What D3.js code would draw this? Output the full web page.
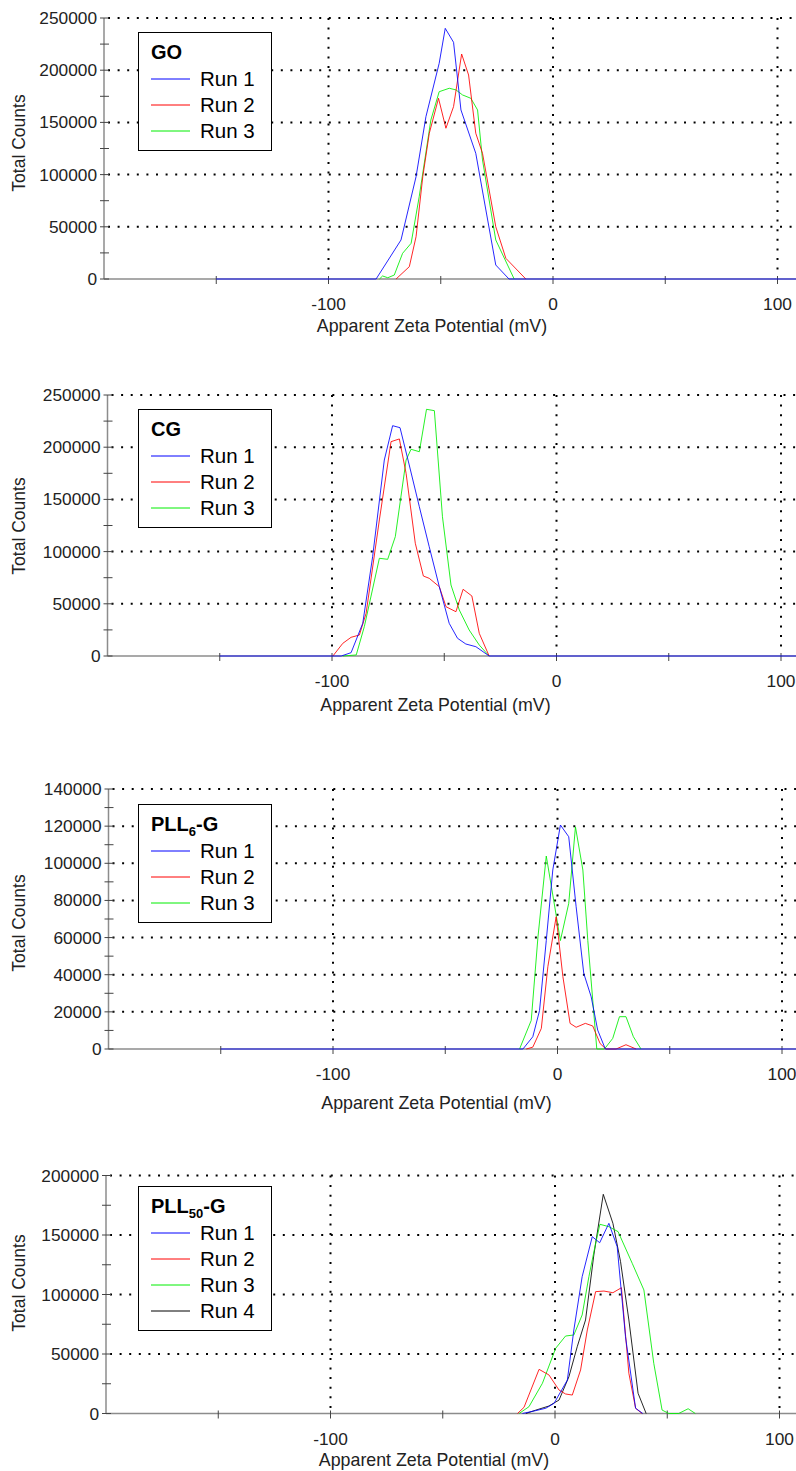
<!DOCTYPE html>
<html>
<head>
<meta charset="utf-8">
<script src="https://cdn.jsdelivr.net/npm/d3@7"></script>
<style>
  body { margin: 0; background: #fff; }
  svg { display: block; font-family: "Liberation Sans", Arial, sans-serif; }
</style>
</head>
<body>
<svg id="canvas" width="796" height="1471"></svg>
<script>
// ---- data: [zeta potential (mV), total counts] ----
const goRun1 = [[-150,0],[-78.8,0],[-67.7,37400],[-61,98000],[-56.6,155500],[-50.7,206600],[-48,240100],[-44.3,226700],[-41,161900],[-34.4,120400],[-29.9,66100],[-25.5,13400],[-19.6,0],[110,0]];
const goRun2 = [[-69.9,0],[-64,11800],[-61,40500],[-58,98000],[-55.1,139600],[-51,173100],[-47.7,144400],[-44.3,165100],[-40.7,215500],[-37.6,195400],[-34.4,139600],[-31.4,120400],[-25.5,50100],[-21,19800],[-12.1,0]];
const goRun3 = [[-77.3,0],[-75.9,2900],[-73.6,1200],[-70.7,3800],[-67,24600],[-63.2,34200],[-59.6,78800],[-54.4,152300],[-50.7,179400],[-46.2,182700],[-43.2,181100],[-40.3,176300],[-36.6,173100],[-33.6,161900],[-31.4,114000],[-25.5,37400],[-17.3,0]];

const cgRun1 = [[-150,0],[-95.9,0],[-91.5,3200],[-86.3,31300],[-81.9,95100],[-76.7,187700],[-73,220600],[-69.7,218700],[-65.6,183000],[-61.1,143000],[-56.7,104700],[-52.2,66400],[-47.8,31300],[-44.1,17000],[-40.4,11500],[-35.9,8900],[-30,0],[110,0]];
const cgRun2 = [[-99.6,0],[-95.2,12100],[-91.5,17900],[-87.8,20100],[-84.8,40900],[-78.9,130300],[-73.7,205300],[-70,207900],[-67,175000],[-62.9,108000],[-59.3,76600],[-56.7,74400],[-52.2,66400],[-49.2,47200],[-44.8,42400],[-41.6,63900],[-37.7,57500],[-34.4,21700],[-30,0]];
const cgRun3 = [[-95.2,0],[-89.2,1000],[-85.6,28100],[-78.9,93600],[-75.2,92600],[-71.8,114300],[-67,187700],[-64.8,198000],[-61.1,195700],[-57.9,236300],[-54.4,235000],[-50.8,133400],[-47,68000],[-43.3,44100],[-38.9,24900],[-34.4,10500],[-30,0]];

const pll6Run1 = [[-150,0],[-15.4,0],[-11,6600],[-8,20700],[-5,58400],[-2.1,96400],[1.3,120600],[5,114300],[8.3,76600],[11.7,40700],[15,28100],[17.9,10200],[21.3,0],[110,0]];
const pll6Run2 = [[-13.9,0],[-11,1000],[-7.2,11100],[-4.3,44300],[-0.6,71200],[2.4,39000],[5.6,13800],[8.3,11700],[12.4,13800],[15.7,12400],[19,2900],[21.6,0],[26.1,0],[30.5,2300],[35,0]];
const pll6Run3 = [[-16.9,0],[-11.7,15400],[-8.7,60400],[-5,103900],[1.3,58400],[5,78400],[8,119600],[11.3,96400],[13.5,58400],[17.5,0],[20.9,0],[24.6,5700],[27.6,17400],[30.5,17400],[33.8,6600],[37.2,0]];

const pll50Run1 = [[-14.5,0],[-8.6,2400],[-4.1,4400],[-0.4,8600],[5.5,28100],[8.4,70200],[12.1,115000],[16.6,148600],[19.9,143500],[24,159800],[27.7,140200],[31.4,64500],[35.9,4400],[39.1,0]];
const pll50Run2 = [[-16.7,0],[-13.8,5200],[-7.1,37100],[-2.7,32400],[1.8,19700],[4.7,16400],[7.7,15500],[11.4,36600],[14.4,70200],[18.1,102400],[21.8,102900],[25.8,101500],[29.6,105700],[32.9,33800],[35.9,4400],[38.8,0]];
const pll50Run3 = [[-16,0],[-11.6,5700],[-5.6,25400],[0.3,54800],[4.7,65100],[8.4,66000],[12.1,82800],[15.1,115000],[18.1,143000],[20,159000],[24,157000],[28.1,152800],[34.4,126200],[39.6,103800],[44,42200],[47.7,2900],[50.7,0],[55.1,0],[59.3,4000],[62.5,0]];
const pll50Run4 = [[-13,0],[-8.6,2800],[-2.7,6300],[1.8,11300],[6.2,30900],[9.9,56100],[13.6,78600],[17.3,133200],[21.5,184200],[25.8,159800],[29.2,127600],[32.9,78600],[37,17000],[40.6,0]];

const runNames = ["Run 1", "Run 2", "Run 3", "Run 4"];
const runColors = ["#0000ff", "#ff0000", "#00ee00", "#000000"];

const xTicks = [-150, -100, -50, 0, 50, 100];
const xLabels = [-100, 0, 100];
const xGrid = [-100, 0, 100];

const titles = [["GO", ""], ["CG", ""], ["PLL", "6", "-G"], ["PLL", "50", "-G"]];
const yMaxes = [250000, 250000, 140000, 200000];
const ySteps = [50000, 50000, 20000, 50000];
const seriesByPanel = [
  [goRun1, goRun2, goRun3],
  [cgRun1, cgRun2, cgRun3],
  [pll6Run1, pll6Run2, pll6Run3],
  [pll50Run1, pll50Run2, pll50Run3, pll50Run4],
];

// ---- layout of the four stacked panels ----
const layout = [
  { left: 104, top: 18, bottom: 279, yLabelY: 143, xTitleY: 332 },
  { left: 107.5, top: 395, bottom: 656, yLabelY: 526, xTitleY: 711 },
  { left: 108.5, top: 789, bottom: 1049, yLabelY: 923, xTitleY: 1109 },
  { left: 106, top: 1175.5, bottom: 1413.5, yLabelY: 1283, xTitleY: 1466 },
];
const legendTop = [32, 409, 804, 1186];

const canvas = d3.select("#canvas");
const W = 796;

const drawPanel = (i) => {
  const L = layout[i];
  const g = canvas.append("g");

  const x = d3.scaleLinear().domain([-200, 110]).range([L.left, L.left + 310 * 2.245]);
  const y = d3.scaleLinear().domain([0, yMaxes[i]]).range([L.bottom, L.top]);

  const majors = d3.range(0, yMaxes[i] + 1, ySteps[i]);
  const minors = d3.range(0, yMaxes[i] + 1, ySteps[i] / 2);

  // dotted grid
  g.selectAll(".hgrid")
    .data(majors.filter((d) => d > 0))
    .enter()
    .append("line")
    .attr("x1", L.left + 4)
    .attr("x2", W)
    .attr("y1", (d) => y(d))
    .attr("y2", (d) => y(d))
    .attr("stroke", "#000")
    .attr("stroke-width", 2)
    .attr("stroke-dasharray", "2,7.6");

  g.selectAll(".vgrid")
    .data(xGrid)
    .enter()
    .append("line")
    .attr("x1", (d) => x(d))
    .attr("x2", (d) => x(d))
    .attr("y1", L.top)
    .attr("y2", L.bottom - 4)
    .attr("stroke", "#000")
    .attr("stroke-width", 2)
    .attr("stroke-dasharray", "2,7.6");

  // axes
  g.append("line")
    .attr("x1", L.left).attr("x2", L.left)
    .attr("y1", L.top).attr("y2", L.bottom)
    .attr("stroke", "#8c8c8c").attr("stroke-width", 1.5);
  g.append("line")
    .attr("x1", L.left).attr("x2", W)
    .attr("y1", L.bottom).attr("y2", L.bottom)
    .attr("stroke", "#8c8c8c").attr("stroke-width", 1.5);

  g.selectAll(".ytick")
    .data(minors)
    .enter()
    .append("line")
    .attr("x1", L.left - 4)
    .attr("x2", L.left + 5)
    .attr("y1", (d) => y(d))
    .attr("y2", (d) => y(d))
    .attr("stroke", "#444")
    .attr("stroke-width", 1);

  g.selectAll(".xtick")
    .data(xTicks)
    .enter()
    .append("line")
    .attr("x1", (d) => x(d))
    .attr("x2", (d) => x(d))
    .attr("y1", L.bottom - 3)
    .attr("y2", L.bottom + 5)
    .attr("stroke", "#444")
    .attr("stroke-width", 1);

  g.selectAll(".ylab")
    .data(majors)
    .enter()
    .append("text")
    .attr("x", L.left - 7)
    .attr("y", (d) => y(d) + 6)
    .attr("text-anchor", "end")
    .attr("font-size", 17.3)
    .attr("fill", "#222")
    .text((d) => d);

  g.selectAll(".xlab")
    .data(xLabels)
    .enter()
    .append("text")
    .attr("x", (d) => x(d))
    .attr("y", L.bottom + 31)
    .attr("text-anchor", "middle")
    .attr("font-size", 17.3)
    .attr("fill", "#222")
    .text((d) => d);

  g.append("text")
    .attr("transform", `translate(25,${L.yLabelY}) rotate(-90)`)
    .attr("text-anchor", "middle")
    .attr("font-size", 17.5)
    .attr("fill", "#222")
    .text("Total Counts");

  g.append("text")
    .attr("x", L.left + 328)
    .attr("y", L.xTitleY)
    .attr("text-anchor", "middle")
    .attr("font-size", 17.8)
    .attr("fill", "#222")
    .text("Apparent Zeta Potential (mV)");

  // legend box sits over the grid, under the curves
  const runs = seriesByPanel[i];
  const top = legendTop[i];
  const lg = g.append("g");
  lg.append("rect")
    .attr("x", 138.5)
    .attr("y", top + 0.5)
    .attr("width", 133)
    .attr("height", 40 + 26 * runs.length)
    .attr("fill", "#fff")
    .attr("stroke", "#000")
    .attr("stroke-width", 1);

  const t = titles[i];
  const tt = lg.append("text")
    .attr("x", 151)
    .attr("y", top + 27)
    .attr("font-size", 20)
    .attr("font-weight", "bold")
    .attr("fill", "#000");
  tt.append("tspan").text(t[0]);
  if (t.length > 2) {
    tt.append("tspan").attr("font-size", 13).attr("dy", 5).text(t[1]);
    tt.append("tspan").attr("dy", -5).text(t[2]);
  }

  runs.forEach((r, k) => {
    const cy = top + 47 + 26 * k;
    lg.append("line")
      .attr("x1", 151).attr("x2", 190)
      .attr("y1", cy).attr("y2", cy)
      .attr("stroke", runColors[k])
      .attr("stroke-width", 1);
    lg.append("text")
      .attr("x", 200)
      .attr("y", cy + 7)
      .attr("font-size", 20.5)
      .attr("fill", "#000")
      .text(runNames[k]);
  });

  // runs, Run 1 drawn last so it sits on top
  const line = d3.line().x((d) => x(d[0])).y((d) => y(d[1]));
  g.selectAll(".run")
    .data(runs.map((r, k) => ({ pts: r, k })).reverse())
    .enter()
    .append("path")
    .attr("d", (d) => line(d.pts))
    .attr("fill", "none")
    .attr("stroke", (d) => runColors[d.k])
    .attr("stroke-width", 1)
    .attr("stroke-opacity", 0.85)
    .attr("stroke-linejoin", "round");
};

[0, 1, 2, 3].forEach(drawPanel);
</script>
</body>
</html>
